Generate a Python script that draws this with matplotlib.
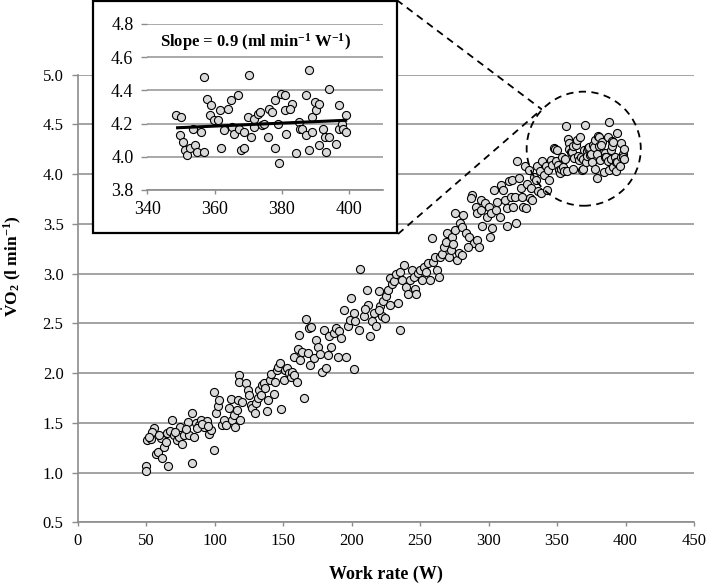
import matplotlib
matplotlib.use('Agg')
import matplotlib.pyplot as plt
import numpy as np
from matplotlib.patches import Ellipse, Rectangle
from matplotlib.lines import Line2D

plt.rcParams['font.family'] = ['Liberation Serif', 'DejaVu Serif']
plt.rcParams['mathtext.fontset'] = 'custom'
plt.rcParams['mathtext.rm'] = 'Liberation Serif'
plt.rcParams['mathtext.it'] = 'Liberation Serif:italic'
plt.rcParams['mathtext.bf'] = 'Liberation Serif:bold'

# ramp data below the inset window (W, l/min)
ramp_watts = [
    50.1, 50.1, 50.6, 53.5, 55.5, 54.7, 57.2, 58.4, 60.8, 62.0, 63.3, 65.7, 65.2, 67.6, 69.3,
    70.6, 72.5, 74.2, 75.0, 76.6, 77.9, 80.3, 81.5, 83.5, 83.9, 85.2, 86.4, 88.8, 90.0, 92.5,
    94.4, 96.1, 97.3, 99.8, 99.3, 52.4, 59.5, 64.5, 71.3, 79.0, 87.5, 91.2, 95.5,
    101.0, 102.2, 103.4, 105.8, 107.0, 108.3, 110.7, 111.9, 113.1, 113.9, 115.0, 116.3,
    117.3, 118.0, 118.0, 118.5, 120.4, 122.9, 124.1, 125.3, 126.5, 127.7, 129.4, 130.2,
    131.4, 132.6, 133.8, 135.0, 135.8, 136.7, 138.2, 139.4, 140.6, 141.6, 143.6, 144.3,
    145.5, 146.5, 147.9, 148.9, 150.4, 151.3, 152.8, 154.5, 155.7, 156.9, 158.2, 160.1,
    157.7, 160.6, 161.8, 162.5, 164.2, 165.5, 166.7, 167.9, 169.1, 170.8, 169.8, 172.7,
    173.9, 175.6, 177.1, 178.3, 179.6, 181.3, 182.5, 183.7, 184.9, 186.9, 188.6, 189.8,
    191.0, 192.2, 194.2, 195.9, 197.1, 199.0, 201.5,
    199.6, 206.5, 201.6, 202.8, 205.2, 208.9, 211.3, 212.1, 213.8, 215.0, 216.7, 218.2,
    219.9, 221.1, 222.3, 223.0, 224.7, 225.5, 226.4, 227.9, 228.4, 229.6, 231.3, 232.8,
    234.0, 235.2, 235.7, 236.9, 238.6, 240.1, 241.1, 242.5, 244.2, 245.4, 246.7, 247.4,
    248.4, 249.8, 251.5, 252.8, 254.7, 255.9, 257.1, 258.4, 259.6, 260.6, 262.5, 263.7,
    264.5, 266.2, 267.4, 268.8, 269.8, 271.0, 272.3, 273.5, 274.2, 275.2, 275.9, 277.1,
    278.3, 279.1, 209.6, 220.2,
    281.5, 280.8, 283.3, 285.7, 289.3, 285.0, 291.8, 293.0, 288.1, 286.9, 290.6, 294.2,
    291.3, 294.7, 295.4, 297.1, 298.6, 300.3, 302.0, 301.0, 302.7, 304.0, 305.2, 306.4,
    308.4, 308.8, 310.8, 311.8, 313.2, 313.7, 314.9, 316.1, 317.4, 318.1, 319.8, 319.1,
    321.0, 322.2, 323.5, 324.7, 325.4, 326.4, 327.1, 328.3, 329.6, 330.3, 331.3, 332.0,
    333.2, 334.4, 335.6, 336.1, 337.6, 338.6, 339.3, 340.5, 341.7, 342.5, 343.4, 344.2,
    345.4, 346.6, 347.8, 280.8,
]
ramp_vo2 = [
    1.07, 1.02, 1.33, 1.34, 1.45, 1.41, 1.19, 1.21, 1.35, 1.15, 1.26, 1.07, 1.40, 1.42, 1.53,
    1.38, 1.33, 1.36, 1.46, 1.29, 1.38, 1.51, 1.38, 1.10, 1.60, 1.36, 1.50, 1.48, 1.53, 1.46,
    1.52, 1.39, 1.43, 1.23, 1.81, 1.36, 1.38, 1.31, 1.41, 1.44, 1.45, 1.49, 1.47,
    1.60, 1.67, 1.73, 1.48, 1.53, 1.48, 1.65, 1.74, 1.53, 1.58, 1.46, 1.63,
    1.73, 1.98, 1.91, 1.53, 1.71, 1.90, 1.83, 1.78, 1.68, 1.65, 1.60, 1.70,
    1.75, 1.83, 1.78, 1.88, 1.90, 1.85, 1.62, 1.73, 1.93, 1.99, 1.79, 1.91,
    2.03, 2.06, 2.10, 1.64, 1.93, 2.03, 2.05, 2.00, 1.96, 2.01, 1.98, 1.91,
    2.16, 2.24, 2.38, 2.13, 2.21, 1.75, 2.54, 2.20, 2.45, 2.46, 2.08, 2.15,
    2.33, 2.26, 2.19, 2.01, 2.43, 2.05, 2.18, 2.37, 2.26, 2.40, 2.45, 2.16,
    2.42, 2.35, 2.63, 2.16, 2.47, 2.53, 2.04,
    2.76, 3.05, 2.60, 2.52, 2.43, 2.57, 2.84, 2.68, 2.37, 2.52, 2.60, 2.47,
    2.83, 2.67, 2.57, 2.72, 2.55, 2.78, 2.84, 2.68, 2.96, 2.90, 2.93, 3.00,
    2.70, 2.43, 3.02, 2.94, 3.09, 2.87, 2.80, 2.94, 3.04, 2.97, 2.85, 2.80,
    3.01, 3.04, 2.94, 3.07, 3.02, 3.11, 2.94, 3.36, 3.12, 3.17, 3.04, 2.97,
    3.17, 3.20, 3.27, 3.32, 3.41, 3.17, 3.24, 3.37, 3.30, 3.44, 3.61, 3.14,
    3.21, 3.51, 2.64, 2.63,
    3.59, 3.47, 3.41, 3.37, 3.31, 3.27, 3.34, 3.27, 3.79, 3.76, 3.67, 3.74,
    3.61, 3.64, 3.48, 3.71, 3.57, 3.67, 3.61, 3.37, 3.46, 3.84, 3.64, 3.72,
    3.57, 3.89, 3.84, 3.74, 3.48, 3.66, 3.93, 3.77, 3.94, 3.67, 3.51, 3.77,
    4.13, 3.96, 3.86, 3.77, 3.67, 4.08, 3.66, 3.90, 4.04, 3.76, 3.86, 3.74,
    3.97, 3.94, 4.08, 3.83, 4.03, 3.81, 4.13, 3.99, 4.08, 3.84, 4.04, 3.94,
    4.14, 4.09, 4.26, 3.19,
]

# end of the test, shown again in the inset
peak_watts = [
    348.6, 350.0, 349.6, 350.7, 351.2, 351.9, 352.7, 353.7, 354.2, 354.9, 355.9, 356.9,
    357.0, 357.9, 358.9, 358.7, 359.9, 360.9, 361.7, 362.0, 362.7, 363.9, 364.9, 365.2,
    365.9, 367.0, 367.2, 367.9, 368.9, 368.9, 370.1, 369.9, 370.9, 371.6, 371.8, 372.8,
    373.6, 374.1, 374.8, 375.8, 376.1, 377.1, 378.1, 378.1, 378.9, 379.1, 379.8, 380.8,
    380.9, 381.1, 383.1, 382.4, 384.1, 385.1, 385.4, 386.1, 387.1, 387.1, 388.1, 388.1,
    389.1, 389.1, 389.8, 390.1, 391.1, 391.1, 392.1, 392.8, 393.0, 394.0, 394.0, 396.0,
    397.0, 397.0, 398.0, 398.3, 399.0, 399.0,
]
peak_vo2 = [
    4.25, 4.24, 4.13, 4.09, 4.04, 4.01, 4.05, 4.17, 4.07, 4.03, 4.15, 4.48,
    4.03, 4.35, 4.31, 4.25, 4.22, 4.22, 4.28, 4.05, 4.16, 4.29, 4.34, 4.18,
    4.14, 4.37, 4.17, 4.04, 4.05, 4.15, 4.49, 4.24, 4.12, 4.23, 4.18, 4.26,
    4.27, 4.19, 4.20, 4.12, 4.29, 4.27, 4.34, 4.05, 4.20, 3.96, 4.38, 4.28,
    4.37, 4.14, 4.32, 4.29, 4.02, 4.21, 4.17, 4.17, 4.37, 4.13, 4.52, 4.04,
    4.24, 4.15, 4.33, 4.28, 4.32, 4.07, 4.17, 4.12, 4.03, 4.41, 4.12, 4.08,
    4.31, 4.17, 4.20, 4.17, 4.25, 4.15,
]

# regression line drawn in the inset
fit_watts = [349, 399]
fit_vo2 = [4.175, 4.22]

W, H = 707, 586


def px(x, y):
    # pixel position (from top-left) -> figure fraction
    return x / W, 1 - y / H


fig = plt.figure(figsize=(W / 100, H / 100), dpi=100)

grid_c = '#a3a3a3'
face_c = '#d9d9d9'

ax = fig.add_axes([77.5 / W, 1 - 522.3 / H, (694 - 77.5) / W, (522.3 - 74.7) / H])
ax.scatter(ramp_watts + peak_watts, ramp_vo2 + peak_vo2, s=34, c=face_c,
           edgecolors='black', linewidths=0.8, zorder=3)
ax.set_xlim(0, 450)
ax.set_ylim(0.5, 5.0)
ax.set_xticks(np.arange(0, 451, 50))
ax.set_yticks(np.arange(0.5, 5.01, 0.5))
ax.yaxis.set_major_formatter(matplotlib.ticker.FormatStrFormatter('%.1f'))
ax.grid(axis='y', color=grid_c, lw=1.4)
ax.set_axisbelow(True)
for s in ['top', 'right']:
    ax.spines[s].set_visible(False)
for s in ['left', 'bottom']:
    ax.spines[s].set_color('#8c8c8c')
    ax.spines[s].set_linewidth(1.2)
ax.tick_params(axis='both', colors='#8c8c8c', labelcolor='black', labelsize=12, width=1)
ax.tick_params(axis='x', length=3, pad=5)
ax.tick_params(axis='y', length=4, pad=6)
ax.set_xlabel('Work rate (W)', fontsize=13, fontweight='bold', labelpad=12)
ax.set_ylabel(r'$\dot{\mathbf{V}}\mathbf{O_2}$ (l min$^{\mathbf{-1}}$)', fontsize=12.5,
              fontweight='bold')
ax.yaxis.set_label_coords(-0.088, 0.573)

# dashed circle around the peak cluster
ax.add_patch(Ellipse((369.5, 4.256), 83.3, 1.147, fill=False, ls=(0, (4, 3)),
                     lw=1.3, color='black', zorder=4, clip_on=False))

# zoom lines from inset to circle
for start in [(396.7, 0), (398, 234)]:
    x0, y0 = px(*start)
    x1, y1 = px(541.7, 109.3)
    fig.add_artist(Line2D([x0, x1], [y0, y1], transform=fig.transFigure, color='black',
                          lw=1.3, ls=(0, (4, 3)), zorder=1))

# inset frame
fx0, fy0 = px(93.3, 233)
fig.add_artist(Rectangle((fx0, fy0), (396.7 - 93.3) / W, (233 - 1.5) / H,
                         transform=fig.transFigure, facecolor='white', edgecolor='black',
                         lw=1.6, zorder=2))

ins = fig.add_axes([147.3 / W, 1 - 190 / H, (382.7 - 147.3) / W, (190 - 24) / H], zorder=3)
ins.scatter(peak_watts, peak_vo2, s=34, c=face_c, edgecolors='black', linewidths=0.8, zorder=3)
ins.plot(fit_watts, fit_vo2, color='black', lw=2.2, zorder=4)
ins.set_xlim(340, 410)
ins.set_ylim(3.8, 4.8)
ins.set_xticks([340, 360, 380, 400])
ins.set_yticks(np.arange(3.8, 4.81, 0.2))
ins.yaxis.set_major_formatter(matplotlib.ticker.FormatStrFormatter('%.1f'))
ins.grid(axis='y', color=grid_c, lw=1.3)
ins.set_axisbelow(True)
for s in ['top', 'right', 'left']:
    ins.spines[s].set_visible(False)
ins.spines['bottom'].set_color('#8c8c8c')
ins.spines['bottom'].set_linewidth(1.2)
ins.tick_params(axis='both', colors='#8c8c8c', labelcolor='black', labelsize=13, width=1)
ins.tick_params(axis='x', length=3, pad=5)
ins.tick_params(axis='y', length=4, pad=6)
ins.text(343.8, 4.69, r'Slope = 0.9 (ml min$^{\mathbf{-1}}$ W$^{\mathbf{-1}}$)', fontsize=12,
         fontweight='bold', va='center', ha='left')

fig.savefig('out.png', dpi=100)
